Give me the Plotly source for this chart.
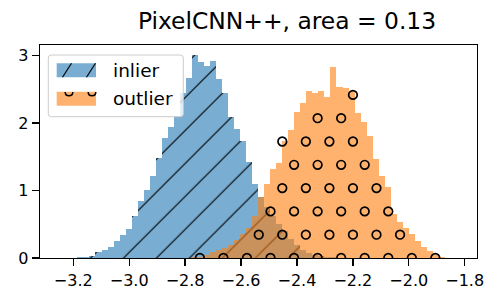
import math
import plotly.graph_objects as go

# ---------------- data ----------------
TITLE = "PixelCNN++, area = 0.13"
SERIES_NAMES = ["inlier", "outlier"]
BIN_WIDTH = 0.02155
INLIER_FIRST_EDGE = -3.2499
OUTLIER_FIRST_EDGE = -2.7758
INLIER_DENSITY = [0.002, 0.003, 0.005, 0.008, 0.015, 0.035, 0.084, 0.114, 0.168, 0.247,
                  0.336, 0.43, 0.617, 0.84, 1.01, 1.21, 1.48, 1.78, 1.94, 2.10,
                  2.45, 2.66, 3.00, 2.91, 2.85, 2.92, 2.65, 2.44, 2.09, 1.91,
                  1.73, 1.42, 1.10, 0.91, 0.75, 0.62, 0.50, 0.40, 0.28, 0.19,
                  0.12, 0.08, 0.05, 0.03, 0.015, 0.008]
OUTLIER_DENSITY = [0.01, 0.02, 0.05, 0.09, 0.12, 0.15, 0.20, 0.26, 0.35, 0.45,
                   0.62, 0.90, 1.09, 1.32, 1.41, 1.73, 1.90, 2.17, 2.30, 2.47,
                   2.44, 2.48, 2.38, 2.83, 2.54, 2.52, 2.48, 2.15, 2.02, 1.80,
                   1.47, 1.22, 1.05, 0.65, 0.54, 0.44, 0.36, 0.25, 0.16, 0.10,
                   0.04, 0.015, 0.006, 0.003]
X_TICKS = [-3.2, -3.0, -2.8, -2.6, -2.4, -2.2, -2.0, -1.8]
X_TICK_LABELS = ["\u22123.2", "\u22123.0", "\u22122.8", "\u22122.6", "\u22122.4",
                 "\u22122.2", "\u22122.0", "\u22121.8"]
Y_TICKS = [0, 1, 2, 3]
Y_TICK_LABELS = ["0", "1", "2", "3"]

# ---------------- layout constants ----------------
W, H = 500, 304
ML, MR, MT, MB = 40, 23, 45, 46
PW, PH = W - ML - MR, H - MT - MB
X_RANGE = [-3.319, -1.756]
Y_RANGE = [0, 3.155]
FONT = "DejaVu Sans"

BLUE = "rgba(31,119,180,0.6)"
ORANGE = "rgba(255,127,14,0.6)"

inlier_edges = [INLIER_FIRST_EDGE + i * BIN_WIDTH for i in range(len(INLIER_DENSITY))]
outlier_edges = [OUTLIER_FIRST_EDGE + i * BIN_WIDTH for i in range(len(OUTLIER_DENSITY))]

fig = go.Figure()
fig.add_trace(go.Bar(
    x=inlier_edges, y=INLIER_DENSITY, width=BIN_WIDTH, offset=0,
    name=SERIES_NAMES[0], showlegend=False, hoverinfo="skip",
    marker=dict(color=BLUE, line=dict(width=0),
                pattern=dict(shape="/", fillmode="overlay", fgcolor="black",
                             fgopacity=1, size=23.3, solidity=0.05)),
))
fig.add_trace(go.Bar(
    x=outlier_edges, y=OUTLIER_DENSITY, width=BIN_WIDTH, offset=0,
    name=SERIES_NAMES[1], showlegend=False, hoverinfo="skip",
    marker=dict(color=ORANGE, line=dict(width=0)),
))

# 'o' hatch for the outlier histogram: a staggered grid of rings kept inside the bars
px_per_x = PW / (X_RANGE[1] - X_RANGE[0])
px_per_y = PH / (Y_RANGE[1] - Y_RANGE[0])
HATCH_STEP_X = 23.55 / px_per_x
HATCH_STEP_Y = 23.3 / px_per_y
HATCH_TOL_Y = 1.5 / px_per_y
HATCH_X_ORIGIN = -2.4945
hx, hy = [], []
for j in range(0, 20):
    yv = j * HATCH_STEP_Y
    shift = 0 if j % 2 == 0 else HATCH_STEP_X / 2
    for m in range(-20, 21):
        xv = HATCH_X_ORIGIN + shift + m * HATCH_STEP_X
        i = math.floor((xv - OUTLIER_FIRST_EDGE) / BIN_WIDTH)
        if 0 <= i < len(OUTLIER_DENSITY) and yv <= OUTLIER_DENSITY[i] + HATCH_TOL_Y:
            hx.append(xv)
            hy.append(yv)
fig.add_trace(go.Scatter(
    x=hx, y=hy, mode="markers", showlegend=False, hoverinfo="skip",
    marker=dict(symbol="circle-open", size=8.6, color="black", line=dict(width=1.7)),
))


def pxx(px):
    return (px - ML) / PW


def pxy(py):
    return (H - MB - py) / PH


shapes = []
# legend frame with rounded corners
x0, x1, y0, y1, r = 48.3, 183.3, 55.0, 116.7, 3.0
rx, ry = r / PW, r / PH
X0, X1, Y0, Y1 = pxx(x0), pxx(x1), pxy(y0), pxy(y1)
path = (f"M{X0+rx},{Y0} L{X1-rx},{Y0} Q{X1},{Y0} {X1},{Y0-ry} "
        f"L{X1},{Y1+ry} Q{X1},{Y1} {X1-rx},{Y1} L{X0+rx},{Y1} "
        f"Q{X0},{Y1} {X0},{Y1+ry} L{X0},{Y0-ry} Q{X0},{Y0} {X0+rx},{Y0} Z")
shapes.append(dict(type="path", xref="paper", yref="paper", path=path,
                   fillcolor="rgba(255,255,255,0.8)", line=dict(color="#cccccc", width=1),
                   layer="above"))
# legend patches
shapes.append(dict(type="rect", xref="paper", yref="paper", x0=pxx(56.7), x1=pxx(96),
                   y0=pxy(77.3), y1=pxy(63.3), fillcolor=BLUE, line=dict(width=0), layer="above"))
shapes.append(dict(type="rect", xref="paper", yref="paper", x0=pxx(56.7), x1=pxx(96),
                   y0=pxy(105.7), y1=pxy(91.7), fillcolor=ORANGE, line=dict(width=0), layer="above"))
for (ax, ay, bx, by) in [(62.5, 77.3, 71.5, 63.3), (86.5, 77.3, 95.5, 63.3)]:
    shapes.append(dict(type="line", xref="paper", yref="paper", x0=pxx(ax), y0=pxy(ay),
                       x1=pxx(bx), y1=pxy(by), line=dict(color="black", width=1.2), layer="above"))
for cx in [69.0, 92.0]:
    cy, rr = 91.9, 3.8
    k = 1.33 * rr
    p = (f"M{pxx(cx-rr)},{pxy(cy)} C{pxx(cx-rr)},{pxy(cy+k)} {pxx(cx+rr)},{pxy(cy+k)} "
         f"{pxx(cx+rr)},{pxy(cy)}")
    shapes.append(dict(type="path", xref="paper", yref="paper", path=p,
                       line=dict(color="black", width=1.5), layer="above"))

annotations = [
    dict(text=SERIES_NAMES[0], xref="paper", yref="paper", x=pxx(111), y=pxy(70.3),
         xanchor="left", yanchor="middle", showarrow=False,
         font=dict(family=FONT, size=18.5, color="black")),
    dict(text=SERIES_NAMES[1], xref="paper", yref="paper", x=pxx(111), y=pxy(98.7),
         xanchor="left", yanchor="middle", showarrow=False,
         font=dict(family=FONT, size=18.5, color="black")),
]

fig.update_layout(
    width=W, height=H,
    margin=dict(l=ML, r=MR, t=MT, b=MB, pad=0, autoexpand=False),
    paper_bgcolor="white", plot_bgcolor="white",
    barmode="overlay", bargap=0,
    showlegend=False, hovermode=False,
    title=dict(text=TITLE, xref="container", x=287 / W, xanchor="center", yref="container",
               y=1 - 21 / H, yanchor="middle",
               font=dict(family=FONT, size=23.4, color="black")),
    font=dict(family=FONT, color="black"),
    shapes=shapes, annotations=annotations,
)
fig.update_xaxes(range=X_RANGE, tickvals=X_TICKS, ticktext=X_TICK_LABELS, automargin=False,
                 showgrid=False, zeroline=False, showline=True, mirror=True,
                 linecolor="black", linewidth=1.3, ticks="outside", ticklen=7,
                 tickwidth=1.3, tickcolor="black", tickfont=dict(family=FONT, size=16))
fig.update_yaxes(range=Y_RANGE, tickvals=Y_TICKS, ticktext=Y_TICK_LABELS, automargin=False,
                 showgrid=False, zeroline=False, showline=True, mirror=True,
                 linecolor="black", linewidth=1.3, ticks="outside", ticklen=7,
                 tickwidth=1.3, tickcolor="black", tickfont=dict(family=FONT, size=16))

fig.write_html("out.html", config={"displayModeBar": False, "staticPlot": True},
               post_script="document.body.style.margin='0';")
